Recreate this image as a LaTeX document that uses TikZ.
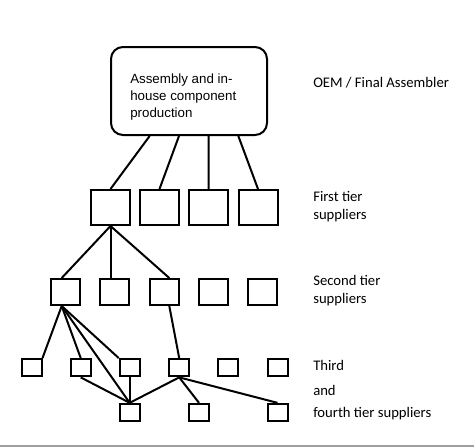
\documentclass[tikz,border=0pt]{standalone}
\usepackage{fontspec}
\setmainfont{Carlito}
\newfontfamily\arialfont{Liberation Sans}
\usepackage{tikz}

\begin{document}
\begin{tikzpicture}[x=0.75pt,y=-0.75pt]
\tikzstyle{every node}+=[inner sep=0pt]
\tikzstyle{bigbox}=[draw, line width=1.5pt, rounded corners=9pt, minimum width=117pt, minimum height=66pt]
\tikzstyle{tierone}=[draw, line width=1.5pt, minimum width=29.25pt, minimum height=26.25pt]
\tikzstyle{tiertwo}=[draw, line width=1.5pt, minimum width=21.75pt, minimum height=19.5pt]
\tikzstyle{tierthree}=[draw, line width=1.5pt, minimum width=15pt, minimum height=13pt]
\tikzstyle{tierlabel}=[anchor=base west, font=\fontsize{11}{13.5}\selectfont]
\tikzstyle{link}=[line width=1.5pt]
\useasboundingbox (0,0) rectangle (474,447);
\fill [gray!75] (0,445) rectangle (474,447);
% OEM
\node [bigbox] (oem) at (189,91) {};
\node [anchor=west, align=left, font=\arialfont\fontsize{10}{13}\selectfont] (oemtext) at (130,97) {Assembly and in-\\house component\\production};
% first tier
\node [tierone] (f1) at (110.5,207.5) {};
\node [tierone] (f2) at (159.5,207.5) {};
\node [tierone] (f3) at (208.5,207.5) {};
\node [tierone] (f4) at (258,207.5) {};
% second tier
\node [tiertwo] (s1) at (65.7,292) {};
\node [tiertwo] (s2) at (114.8,292) {};
\node [tiertwo] (s3) at (164.3,292) {};
\node [tiertwo] (s4) at (213.5,292) {};
\node [tiertwo] (s5) at (262.8,292) {};
% third tier
\node [tierthree] (t1) at (31.5,367.7) {};
\node [tierthree] (t2) at (80.7,367.7) {};
\node [tierthree] (t3) at (129.7,367.7) {};
\node [tierthree] (t4) at (179.2,367.7) {};
\node [tierthree] (t5) at (228.2,367.7) {};
\node [tierthree] (t6) at (277.5,367.7) {};
% fourth tier
\node [tierthree] (u1) at (129.7,412.5) {};
\node [tierthree] (u2) at (199,412.5) {};
\node [tierthree] (u3) at (277.5,412.5) {};
% links
\draw [link] ([xshift=-29.5pt]oem.south) -- (f1.north);
\draw [link] ([xshift=-7.5pt]oem.south) -- (f2.north);
\draw [link] ([xshift=14.8pt]oem.south) -- (f3.north);
\draw [link] ([xshift=37pt]oem.south) -- (f4.north);
\draw [link] (f1.south) -- ([xshift=-3pt]s1.north);
\draw [link] (f1.south) -- (f1.south |- s2.north);
\draw [link] (f1.south) -- ([xshift=3.75pt]s3.north);
\draw [link] ([xshift=-3pt]s1.south) -- (t1.north east);
\draw [link] ([xshift=-3pt]s1.south) -- (t2.north);
\draw [link] ([xshift=-3pt]s1.south) -- (t3.north west);
\draw [link] ([xshift=-3pt]s1.south) -- (u1.north);
\draw [link] (t2.south) -- (u1.north);
\draw [link] (t3.south) -- (u1.north);
\draw [link] ([xshift=3.75pt]s3.south) -- (t4.north);
\draw [link] (t4.south) -- (u1.north);
\draw [link] (t4.south) -- (u2.north);
\draw [link] (t4.south) -- (u3.north);
% labels
\node [tierlabel] (lab0) at (313,87) {OEM / Final Assembler};
\node [tierlabel] (lab1) at (313,201.5) {First tier};
\node [tierlabel] (lab1b) at (313,219.5) {suppliers};
\node [tierlabel] (lab2) at (313,285.5) {Second tier};
\node [tierlabel] (lab2b) at (313,303.5) {suppliers};
\node [tierlabel] (lab3) at (313,370) {Third};
\node [tierlabel] (lab4) at (313,395) {and};
\node [tierlabel] (lab5) at (313,417.5) {fourth tier suppliers};
\end{tikzpicture}
\end{document}
